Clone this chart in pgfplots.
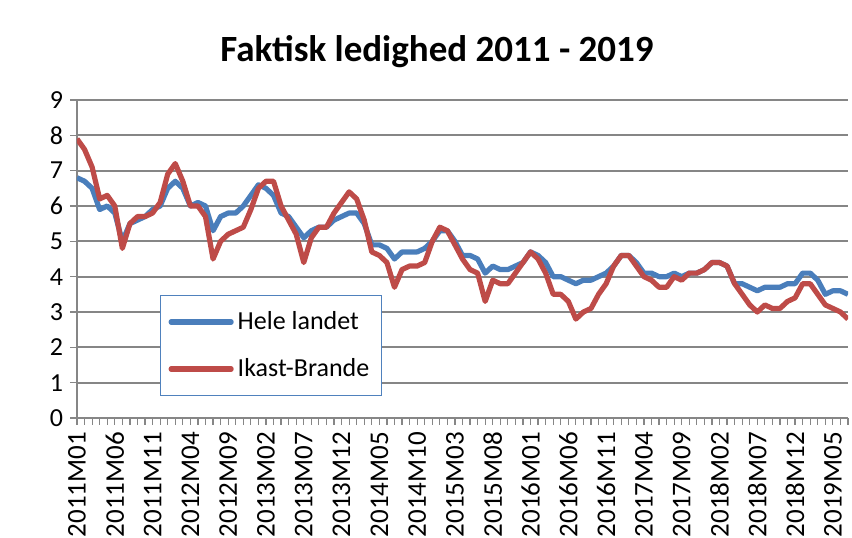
\documentclass[border=0pt]{standalone}
\usepackage{fontspec}
\setmainfont{Carlito}
\usepackage{pgfplots}
\usepackage{pgfplotstable}
\pgfplotsset{compat=1.18}

\definecolor{hele}{HTML}{4A7EBB}
\definecolor{ikast}{HTML}{BE4B48}
\definecolor{gridgray}{HTML}{868686}
\definecolor{legframe}{HTML}{4F81BD}

% i = maaned siden 2011M01
\pgfplotstableread{
i hele ikast
0 6.8 7.9
1 6.7 7.6
2 6.5 7.1
3 5.9 6.2
4 6.0 6.3
5 5.8 6.0
6 5.0 4.8
7 5.5 5.5
8 5.6 5.7
9 5.7 5.7
10 5.9 5.8
11 6.0 6.1
12 6.5 6.9
13 6.7 7.2
14 6.5 6.7
15 6.0 6.0
16 6.1 6.0
17 6.0 5.7
18 5.3 4.5
19 5.7 5.0
20 5.8 5.2
21 5.8 5.3
22 6.0 5.4
23 6.3 5.9
24 6.6 6.5
25 6.5 6.7
26 6.3 6.7
27 5.8 6.0
28 5.7 5.6
29 5.4 5.2
30 5.1 4.4
31 5.3 5.1
32 5.4 5.4
33 5.4 5.4
34 5.6 5.8
35 5.7 6.1
36 5.8 6.4
37 5.8 6.2
38 5.5 5.6
39 4.9 4.7
40 4.9 4.6
41 4.8 4.4
42 4.5 3.7
43 4.7 4.2
44 4.7 4.3
45 4.7 4.3
46 4.8 4.4
47 5.0 5.0
48 5.3 5.4
49 5.3 5.3
50 5.0 4.9
51 4.6 4.5
52 4.6 4.2
53 4.5 4.1
54 4.1 3.3
55 4.3 3.9
56 4.2 3.8
57 4.2 3.8
58 4.3 4.1
59 4.4 4.4
60 4.7 4.7
61 4.6 4.5
62 4.4 4.1
63 4.0 3.5
64 4.0 3.5
65 3.9 3.3
66 3.8 2.8
67 3.9 3.0
68 3.9 3.1
69 4.0 3.5
70 4.1 3.8
71 4.3 4.3
72 4.6 4.6
73 4.6 4.6
74 4.4 4.3
75 4.1 4.0
76 4.1 3.9
77 4.0 3.7
78 4.0 3.7
79 4.1 4.0
80 4.0 3.9
81 4.1 4.1
82 4.1 4.1
83 4.2 4.2
84 4.4 4.4
85 4.4 4.4
86 4.3 4.3
87 3.8 3.8
88 3.8 3.5
89 3.7 3.2
90 3.6 3.0
91 3.7 3.2
92 3.7 3.1
93 3.7 3.1
94 3.8 3.3
95 3.8 3.4
96 4.1 3.8
97 4.1 3.8
98 3.9 3.5
99 3.5 3.2
100 3.6 3.1
101 3.6 3.0
102 3.5 2.8
}\ledighed

\begin{document}
\begin{tikzpicture}
\begin{axis}[
    name=ax,
    scale only axis,
    width=385.5pt, height=159pt,
    xmin=0, xmax=102,
    ymin=0, ymax=9,
    axis x line*=bottom,
    axis y line*=left,
    axis line style={gridgray, line width=0.8pt},
    ytick={0,...,9},
    ymajorgrids=true,
    grid style={gridgray, line width=0.9pt},
    xtick={0,5,...,100},
    xticklabels={2011M01,2011M06,2011M11,2012M04,2012M09,2013M02,2013M07,
        2013M12,2014M05,2014M10,2015M03,2015M08,2016M01,2016M06,2016M11,
        2017M04,2017M09,2018M02,2018M07,2018M12,2019M05},
    minor xtick={0,...,102},
    tick align=outside,
    major tick length=3.5pt,
    minor tick length=3.5pt,
    tick style={gridgray, line width=0.6pt},
    x tick label style={rotate=90, anchor=east, font=\fontsize{13.5}{13.5}\selectfont},
    y tick label style={font=\fontsize{13}{13}\selectfont},
    /pgf/number format/assume math mode=true,
    legend style={at={(0.1077,0.387)}, anchor=north west,
        draw=legframe, line width=0.5pt,
        font=\fontsize{13}{13}\selectfont,
        row sep=9pt, inner xsep=4pt, inner ysep=6pt},
    legend cell align=left,
    legend image code/.code={\draw[#1, line cap=round] (0pt,0pt) -- (30pt,0pt);},
]
\addplot[hele, line width=2.6pt, line join=round] table[x=i, y=hele] {\ledighed};
\addlegendentry{Hele landet}
\addplot[ikast, line width=2.6pt, line join=round] table[x=i, y=ikast] {\ledighed};
\addlegendentry{Ikast-Brande}
\end{axis}
\node[font=\bfseries\fontsize{18.5}{18.5}\selectfont]
    at ([shift={(180pt,183pt)}]ax.south west) {Faktisk ledighed 2011 - 2019};
\pgfresetboundingbox
\path[use as bounding box] ([shift={(-38.5pt,-60pt)}]ax.south west)
    rectangle ([shift={(2pt,50pt)}]ax.north east);
\end{tikzpicture}
\end{document}
